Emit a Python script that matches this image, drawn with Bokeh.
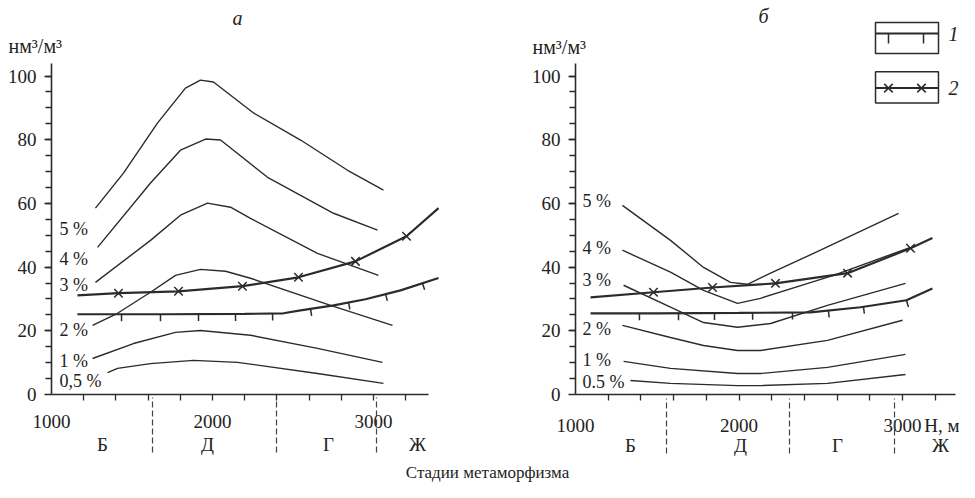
import numpy as np
from bokeh.plotting import figure
from bokeh.models import FixedTicker, LinearAxis, Range1d
from bokeh.layouts import row, column
from bokeh.embed import file_html
from bokeh.resources import INLINE
from bokeh.core.properties import value

FONT = "Liberation Serif"
INK = "#2b2b2b"
TXT = "#222222"

# ---------------- axis ticks / labels ----------------
x_major = [1000, 2000, 3000]
x_minor = [1200, 1400, 1600, 1800, 2000, 2200, 2400, 2600, 2800, 3000, 3200]
y_major = [0, 20, 40, 60, 80, 100]
y_minor = list(range(5, 101, 5))
stage_names = ["Б", "Д", "Г", "Ж"]
unit_text = "нм³/м³"
depth_text = "H, м"
caption_text = "Стадии метаморфизма"
panel_titles = ["а", "б"]
legend_names = ["1", "2"]

# ---------------- panel а ----------------
a_labels = ["5 %", "4 %", "3 %", "2 %", "1 %", "0,5 %"]
a_label_y = [51.9, 42.5, 34.3, 20.4, 10.4, 4.1]
a_stage_centers = [1317, 1969, 2720, 3273]
a_stage_bounds = [1627, 2398, 3019]

a5_x = [1273, 1447, 1658, 1832, 1925, 2006, 2255, 2547, 2839, 3062]
a5_y = [58.5, 69.5, 85.2, 96.2, 98.7, 98.1, 88.4, 79.9, 70.4, 64.2]
a4_x = [1286, 1615, 1801, 1957, 2050, 2342, 2752, 3025]
a4_y = [46.2, 66.4, 76.7, 80.2, 79.9, 68.2, 56.9, 51.6]
a3_x = [1273, 1615, 1801, 1969, 2112, 2236, 2652, 3031]
a3_y = [35.2, 48.4, 56.3, 60.1, 58.8, 55.3, 44.3, 37.4]
a2_x = [1255, 1410, 1615, 1770, 1925, 2081, 2236, 2733, 3118]
a2_y = [21.7, 25.5, 32.1, 37.4, 39.3, 38.7, 36.5, 28.0, 21.7]
a1_x = [1255, 1509, 1770, 1925, 2236, 2652, 3056]
a1_y = [11.3, 16.0, 19.5, 20.1, 18.6, 14.5, 10.1]
a05_x = [1348, 1410, 1615, 1882, 2155, 2652, 3062]
a05_y = [6.9, 8.2, 9.7, 10.7, 10.1, 6.6, 3.5]
# curve 1 (with ticks) and curve 2 (with crosses)
aI_x = [1161, 1700, 2200, 2441, 2547, 2752, 2950, 3168, 3404]
aI_y = [25.2, 25.2, 25.3, 25.5, 26.4, 28.0, 29.9, 32.7, 36.6]
aI_ticks = [1435, 1677, 1913, 2143, 2373, 2609, 2845, 3075, 3304]
aII_x = [1161, 1416, 1789, 2186, 2534, 2888, 3205, 3404]
aII_y = [31.1, 31.8, 32.4, 34.0, 36.8, 41.8, 49.7, 58.5]
aII_cross_x = [1416, 1789, 2186, 2534, 2888, 3205]
aII_cross_y = [31.8, 32.4, 34.0, 36.8, 41.8, 49.7]

# ---------------- panel б ----------------
b_labels = ["5 %", "4 %", "3 %", "2 %", "1 %", "0.5 %"]
b_label_y = [60.7, 46.1, 36.0, 20.6, 10.7, 3.8]
b_stage_centers = [1336, 2009, 2602, 3232]
b_stage_bounds = [1557, 2309, 2951]
b_depth_pos = 3247

b5_x = [1287, 1581, 1783, 1948, 2052, 2193, 2498, 2976]
b5_y = [59.4, 48.4, 39.9, 35.2, 34.6, 38.1, 45.3, 56.9]
b4_x = [1287, 1581, 1783, 1991, 2131, 2578, 3049]
b4_y = [45.3, 38.4, 32.7, 28.6, 30.2, 37.4, 46.2]
b3_x = [1294, 1581, 1783, 1991, 2193, 2541, 3018]
b3_y = [34.3, 27.4, 22.6, 21.1, 22.3, 28.0, 34.9]
b2_x = [1287, 1581, 1783, 1991, 2131, 2541, 3000]
b2_y = [21.7, 17.9, 15.4, 13.8, 13.8, 17.0, 23.3]
b1_x = [1294, 1581, 1991, 2131, 2541, 3018]
b1_y = [10.4, 8.2, 6.6, 6.6, 8.5, 12.6]
b05_x = [1336, 1581, 1991, 2131, 2541, 3018]
b05_y = [4.4, 3.5, 2.8, 2.8, 3.5, 6.3]
bI_x = [1092, 1500, 2000, 2437, 2743, 3024, 3183]
bI_y = [25.5, 25.5, 25.6, 25.8, 27.4, 29.6, 33.3]
bI_ticks = [1391, 1630, 1850, 2083, 2327, 2547, 2761, 3024]
bII_x = [1092, 1477, 1838, 2223, 2664, 3049, 3183]
bII_y = [30.5, 32.1, 33.6, 34.9, 38.1, 45.9, 49.1]
bII_cross_x = [1477, 1838, 2223, 2664, 3049]
bII_cross_y = [32.1, 33.6, 34.9, 38.1, 45.9]

# ---------------- geometry ----------------
TOTAL_W = 959
HEAD_H = 60          # header strip (titles, units, upper legend sample)
FRAME_H = 334
BOTTOM_B = 66
MAIN_H = FRAME_H + BOTTOM_B
CAP_H = 482 - HEAD_H - MAIN_H
PX_PER_UNIT = 3.185
Y_END = FRAME_H / PX_PER_UNIT


def make_panel(width, border_left, px_per_m, axis_end, centers, bounds,
               extra_major=None, stage_shift=0):
    frame_w = width - border_left
    x_end = 1000 + frame_w / px_per_m
    p = figure(width=width, height=MAIN_H, x_range=Range1d(1000, x_end),
               y_range=Range1d(0, Y_END), output_backend="svg",
               toolbar_location=None, title=None, x_axis_type=None,
               y_axis_type=None, min_border_left=border_left,
               min_border_right=0, min_border_top=0,
               min_border_bottom=BOTTOM_B)
    p.outline_line_color = None

    majors = list(x_major)
    overrides = {}
    if extra_major is not None:
        majors.append(extra_major)
        overrides[extra_major] = depth_text
    xa = LinearAxis(ticker=FixedTicker(ticks=majors, minor_ticks=x_minor),
                    bounds=(1000, axis_end), major_label_overrides=overrides)
    xa.axis_line_color = INK
    xa.axis_line_width = 1.6
    xa.major_tick_out = 0
    xa.major_tick_in = 0
    xa.minor_tick_out = 6
    xa.minor_tick_in = 0
    xa.minor_tick_line_color = INK
    xa.minor_tick_line_width = 1.3
    xa.major_label_standoff = 14
    xa.major_label_text_font = FONT
    xa.major_label_text_font_size = "19px"
    xa.major_label_text_color = TXT
    p.add_layout(xa, "below")

    sa = LinearAxis(ticker=FixedTicker(ticks=centers, minor_ticks=bounds),
                    major_label_overrides={c: s for c, s in zip(centers, stage_names)})
    sa.axis_line_color = None
    sa.major_tick_line_color = None
    sa.major_tick_out = 0
    sa.major_tick_in = 0
    sa.minor_tick_line_color = "#444444"
    sa.minor_tick_line_width = 1.2
    sa.minor_tick_line_dash = "6 3"
    sa.minor_tick_in = 33 + stage_shift
    sa.minor_tick_out = 22 - stage_shift
    sa.major_label_standoff = -19
    sa.major_label_text_font = FONT
    sa.major_label_text_font_size = "19px"
    sa.major_label_text_color = TXT
    p.add_layout(sa, "below")

    ya = LinearAxis(ticker=FixedTicker(ticks=y_major, minor_ticks=y_minor),
                    bounds=(0, 104))
    ya.axis_line_color = INK
    ya.axis_line_width = 1.6
    ya.major_tick_out = 7
    ya.major_tick_in = 0
    ya.minor_tick_out = 6
    ya.minor_tick_in = 0
    ya.major_tick_line_color = INK
    ya.minor_tick_line_color = INK
    ya.major_tick_line_width = 1.3
    ya.minor_tick_line_width = 1.3
    ya.major_label_standoff = 8
    ya.major_label_text_font = FONT
    ya.major_label_text_font_size = "19px"
    ya.major_label_text_color = TXT
    p.add_layout(ya, "left")
    return p


def draw_curves(p, curves, labels, label_x, label_y):
    for xs, ys in curves:
        p.line(xs, ys, line_color=INK, line_width=1.4)
    p.text(x=[label_x] * len(labels), y=label_y, text=labels,
           text_font=value(FONT), text_font_size="18px", text_color=TXT,
           text_align="left", text_baseline="middle")


def draw_tick_curve(p, xs, ys, tick_x, px_per_m):
    p.line(xs, ys, line_color=INK, line_width=2.2)
    tx = np.array(tick_x, dtype=float)
    ty = np.interp(tx, xs, ys)
    slope = (np.interp(tx + 40, xs, ys) - np.interp(tx - 40, xs, ys)) / 80.0
    theta = np.arctan2(slope * PX_PER_UNIT, px_per_m)
    p.ray(x=tx, y=ty, length=7, length_units="screen", angle=theta - np.pi / 2,
          line_color=INK, line_width=1.5)


def draw_cross_curve(p, xs, ys, cx, cy):
    p.line(xs, ys, line_color=INK, line_width=2.2)
    p.scatter(cx, cy, marker="x", size=12, line_color=INK, line_width=1.5)


# ---------------- header strip (pixel coordinates, y downwards) ----------------
hdr = figure(width=TOTAL_W, height=HEAD_H, x_range=Range1d(0, TOTAL_W),
             y_range=Range1d(HEAD_H, 0), output_backend="svg",
             toolbar_location=None, title=None, x_axis_type=None,
             y_axis_type=None, min_border=0)
hdr.outline_line_color = None
hdr.text(x=[237, 763], y=[17, 15], text=panel_titles, text_font=value(FONT),
         text_font_size="20px", text_font_style="italic", text_color=TXT,
         text_align="center", text_baseline="middle")
hdr.text(x=[8, 532], y=[45, 46], text=[unit_text, unit_text],
         text_font=value(FONT), text_font_size="20px", text_color=TXT,
         text_align="left", text_baseline="middle")
# upper legend sample "1"
hdr.quad(left=[875], right=[938], top=[22], bottom=[53], fill_color=None,
         line_color=INK, line_width=1.5)
hdr.segment(x0=[875], y0=[33], x1=[938], y1=[33], line_color=INK, line_width=2.0)
hdr.segment(x0=[888, 923], y0=[33, 33], x1=[888, 923], y1=[43, 43],
            line_color=INK, line_width=1.5)
hdr.text(x=[948], y=[33], text=[legend_names[0]], text_font=value(FONT),
         text_font_size="20px", text_font_style="italic", text_color=TXT,
         text_align="left", text_baseline="middle")

# ---------------- panel а ----------------
SX_A = 0.161
W_A, BL_A = 482, 51
p1 = make_panel(W_A, BL_A, SX_A, 3340, a_stage_centers, a_stage_bounds)
draw_curves(p1, [(a5_x, a5_y), (a4_x, a4_y), (a3_x, a3_y), (a2_x, a2_y),
                 (a1_x, a1_y), (a05_x, a05_y)], a_labels, 1050, a_label_y)
draw_tick_curve(p1, aI_x, aI_y, aI_ticks, SX_A)
draw_cross_curve(p1, aII_x, aII_y, aII_cross_x, aII_cross_y)

# ---------------- panel б ----------------
SX_B = 0.1635
W_B, BL_B = TOTAL_W - W_A, 93
p2 = make_panel(W_B, BL_B, SX_B, 3326, b_stage_centers, b_stage_bounds,
                extra_major=b_depth_pos, stage_shift=7)
draw_curves(p2, [(b5_x, b5_y), (b4_x, b4_y), (b3_x, b3_y), (b2_x, b2_y),
                 (b1_x, b1_y), (b05_x, b05_y)], b_labels, 1043, b_label_y)
draw_tick_curve(p2, bI_x, bI_y, bI_ticks, SX_B)
draw_cross_curve(p2, bII_x, bII_y, bII_cross_x, bII_cross_y)

# lower legend sample "2" (data coordinates of panel б)
LG_L, LG_R = 2835, 3220
p2.quad(left=[LG_L], right=[LG_R], top=[101.3], bottom=[91.5],
        fill_color=None, line_color=INK, line_width=1.5)
p2.segment(x0=[LG_L], y0=[96.2], x1=[LG_R], y1=[96.2], line_color=INK,
           line_width=2.0)
p2.scatter([2914, 3116], [96.2, 96.2], marker="x", size=12, line_color=INK,
           line_width=1.5)
p2.text(x=[3282], y=[96.2], text=[legend_names[1]], text_font=value(FONT),
        text_font_size="20px", text_font_style="italic", text_color=TXT,
        text_align="left", text_baseline="middle")

# ---------------- caption ----------------
cap = figure(width=TOTAL_W, height=CAP_H, x_range=Range1d(0, TOTAL_W),
             y_range=Range1d(CAP_H, 0), output_backend="svg",
             toolbar_location=None, title=None, x_axis_type=None,
             y_axis_type=None, min_border=0)
cap.outline_line_color = None
cap.text(x=[487], y=[12], text=[caption_text], text_font=value(FONT),
         text_font_size="17px", text_color=TXT, text_align="center",
         text_baseline="middle")

layout = column(hdr, row(p1, p2), cap)
open("out.html", "w").write(file_html(layout, INLINE))
